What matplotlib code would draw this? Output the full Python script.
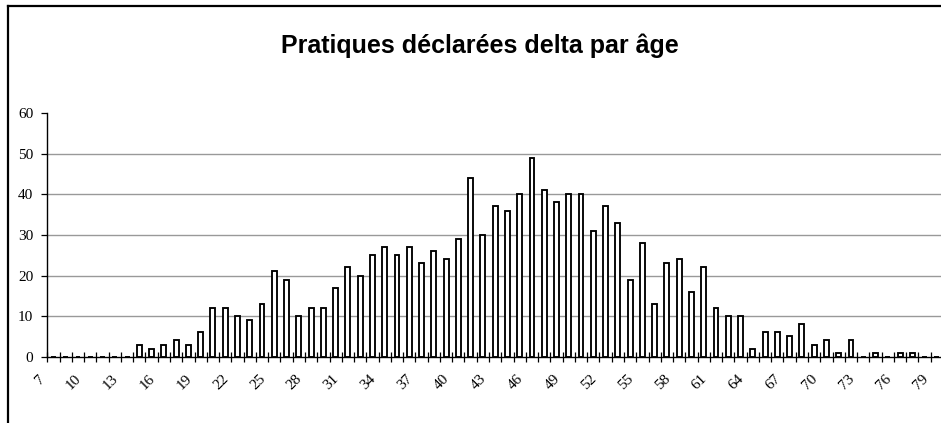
import matplotlib
matplotlib.use("Agg")
import matplotlib.pyplot as plt
from matplotlib.lines import Line2D
from matplotlib.transforms import ScaledTranslation
import numpy as np

title = "Pratiques déclarées delta par âge"
ages = list(range(7, 80))
counts = [0, 0, 0, 0, 0, 0, 0,
          3, 2, 3, 4, 3, 6, 12, 12, 10, 9, 13, 21, 19, 10, 12, 12,
          17, 22, 20, 25, 27, 25, 27, 23, 26, 24, 29, 44, 30, 37, 36, 40,
          49, 41, 38, 40, 40, 31, 37, 33, 19, 28, 13, 23, 24, 16, 22, 12,
          10, 10, 2, 6, 6, 5, 8, 3, 4, 1, 4, 0, 1, 0, 1, 1, 0, 0]
yticks = [0, 10, 20, 30, 40, 50, 60]
label_step = 3

fig = plt.figure(figsize=(9.41, 4.23), dpi=100)
fig.patch.set_facecolor("white")
ax = fig.add_axes([47.3 / 941, 66.3 / 423, 895.7 / 941, 243.6 / 423])

x = np.arange(len(ages))
ax.bar(x, counts, width=0.4, facecolor="white", edgecolor="black",
       linewidth=1.35, zorder=3)

ax.set_xlim(-0.5, len(ages) - 0.5)
ax.set_ylim(0, 60)

# gridlines
ax.set_yticks(yticks)
for v in yticks[1:-1]:
    ax.axhline(v, color="#999999", linewidth=1.0, zorder=1)

ax.spines["top"].set_visible(False)
ax.spines["right"].set_visible(False)
ax.spines["left"].set_linewidth(1.0)
ax.spines["bottom"].set_linewidth(1.0)
ax.spines["bottom"].set_zorder(4)

# y ticks
ax.tick_params(axis="y", direction="out", length=4, width=0.9, pad=6,
               labelsize=11)
for lab in ax.get_yticklabels():
    lab.set_fontfamily("Liberation Serif")

# x ticks: marks at category boundaries, labels at every 3rd category
ax.set_xticks(np.arange(len(ages) + 1) - 0.5)
ax.set_xticklabels([])
ax.tick_params(axis="x", which="major", direction="inout", length=7.5,
               width=0.9)
lab_pos = x[::label_step]
ax.set_xticks(lab_pos, minor=True)
ax.set_xticklabels([str(a) for a in ages[::label_step]], minor=True,
                   rotation=45, ha="right", va="center",
                   rotation_mode="anchor", fontsize=11,
                   fontfamily="Liberation Serif")
ax.tick_params(axis="x", which="minor", length=0, pad=14.5)
off = ScaledTranslation(-11 / 100, 0, fig.dpi_scale_trans)
for lab in ax.get_xticklabels(minor=True):
    lab.set_transform(lab.get_transform() + off)

fig.text(479.5 / 941, 1 - 53 / 423, title, ha="center", va="baseline",
         fontsize=18, fontweight="bold", fontfamily="Liberation Sans")

# outer chart border (top and left visible)
fig.add_artist(Line2D([7.5 / 941, 7.5 / 941], [0, 1 - 6 / 423],
                      transform=fig.transFigure, color="black", linewidth=1.6))
fig.add_artist(Line2D([7.5 / 941, 1.0], [1 - 6 / 423, 1 - 6 / 423],
                      transform=fig.transFigure, color="black", linewidth=1.6))

fig.savefig("out.png", dpi=100)
